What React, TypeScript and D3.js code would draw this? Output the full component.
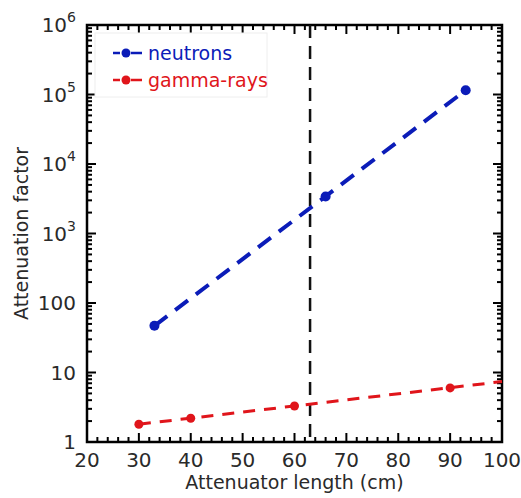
import { useRef, useEffect } from "react";
import * as d3 from "d3";

interface Pt { x: number; y: number; }

// measured points
const neutrons: Pt[] = [
  { x: 33, y: 47 },
  { x: 66, y: 3400 },
  { x: 93, y: 115000 },
];
const gammas: Pt[] = [
  { x: 30, y: 1.8 },
  { x: 40, y: 2.2 },
  { x: 60, y: 3.3 },
  { x: 90, y: 6.0 },
];
// exponential fit lines (end points)
const neutronFit: Pt[] = [{ x: 33, y: 47 }, { x: 93, y: 115000 }];
const gammaFit: Pt[] = [{ x: 30, y: 1.8 }, { x: 100, y: 7.4 }];
const cutLength = 63;

const xTicks = [20, 30, 40, 50, 60, 70, 80, 90, 100];
const yDecades = [1, 10, 100, 1e3, 1e4, 1e5, 1e6];
const yLabels = ["1", "10", "100", "10|3", "10|4", "10|5", "10|6"];

const BLUE = "#0b1cb8";
const RED = "#e0151b";
const INK = "#2a2a2a";
const FONT = "DejaVu Sans, sans-serif";

export default function App() {
  const svgRef = useRef<SVGSVGElement>(null);

  useEffect(() => {
    const svg = d3.select(svgRef.current);
    svg.selectAll("*").remove();
    const m = { left: 87, right: 502, top: 25, bottom: 442 };
    const x = d3.scaleLinear().domain([20, 100]).range([m.left, m.right]);
    const y = d3.scaleLog().domain([1, 1e6]).range([m.bottom, m.top]);

    const g = svg.append("g");

    // minor / major ticks, inward on all sides
    const ticks = g.append("g").attr("stroke", "#000").attr("stroke-width", 2);
    d3.range(20, 100.1, 2).forEach(v => {
      const len = v % 10 === 0 ? 9 : 5;
      ticks.append("line").attr("x1", x(v)).attr("x2", x(v)).attr("y1", m.bottom).attr("y2", m.bottom - len);
      ticks.append("line").attr("x1", x(v)).attr("x2", x(v)).attr("y1", m.top).attr("y2", m.top + len);
    });
    yDecades.forEach((d, i) => {
      [m.left, m.right].forEach((ax, side) => {
        const dir = side === 0 ? 1 : -1;
        ticks.append("line").attr("x1", ax).attr("x2", ax + dir * 9).attr("y1", y(d)).attr("y2", y(d));
        if (i < yDecades.length - 1) {
          d3.range(2, 10).forEach(k => {
            ticks.append("line").attr("x1", ax).attr("x2", ax + dir * 5)
              .attr("y1", y(d * k)).attr("y2", y(d * k));
          });
        }
      });
    });

    // frame
    g.append("rect").attr("x", m.left).attr("y", m.top)
      .attr("width", m.right - m.left).attr("height", m.bottom - m.top)
      .attr("fill", "none").attr("stroke", "#000").attr("stroke-width", 2.5);

    // tick labels
    xTicks.forEach(v => {
      g.append("text").attr("x", x(v)).attr("y", 467).attr("text-anchor", "middle")
        .attr("font-family", FONT).attr("font-size", 20).attr("fill", INK).text(v);
    });
    yDecades.forEach((d, i) => {
      const [base, exp] = yLabels[i].split("|");
      const t = g.append("text").attr("x", 76).attr("y", y(d) + 7).attr("text-anchor", "end")
        .attr("font-family", FONT).attr("font-size", 20).attr("fill", INK);
      t.append("tspan").text(base);
      if (exp) t.append("tspan").attr("dy", -10).attr("font-size", 14).text(exp);
    });

    // axis titles
    g.append("text").attr("x", (m.left + m.right) / 2).attr("y", 489).attr("text-anchor", "middle")
      .attr("font-family", FONT).attr("font-size", 19).attr("fill", INK).text("Attenuator length (cm)");
    g.append("text").attr("transform", `translate(28,${(m.top + m.bottom) / 2}) rotate(-90)`)
      .attr("text-anchor", "middle").attr("font-family", FONT).attr("font-size", 19).attr("fill", INK)
      .text("Attenuation factor");

    // vertical cut line
    g.append("line").attr("x1", x(cutLength)).attr("x2", x(cutLength)).attr("y1", m.top).attr("y2", m.bottom)
      .attr("stroke", "#111").attr("stroke-width", 2.5).attr("stroke-dasharray", "13,8");

    const line = d3.line<Pt>().x(d => x(d.x)).y(d => y(d.y));
    g.append("path").datum(neutronFit).attr("d", line).attr("fill", "none")
      .attr("stroke", BLUE).attr("stroke-width", 4).attr("stroke-dasharray", "16,10");
    g.append("path").datum(gammaFit).attr("d", line).attr("fill", "none")
      .attr("stroke", RED).attr("stroke-width", 3).attr("stroke-dasharray", "12,9");

    g.selectAll(".n").data(neutrons).enter().append("circle")
      .attr("cx", d => x(d.x)).attr("cy", d => y(d.y)).attr("r", 5).attr("fill", BLUE);
    g.selectAll(".gm").data(gammas).enter().append("circle")
      .attr("cx", d => x(d.x)).attr("cy", d => y(d.y)).attr("r", 4.5).attr("fill", RED);

    // legend
    const lg = g.append("g");
    lg.append("rect").attr("x", 95).attr("y", 33).attr("width", 172).attr("height", 64)
      .attr("fill", "#fff").attr("stroke", "#eee").attr("stroke-width", 1);
    [{ label: "neutrons", c: BLUE, yy: 53 }, { label: "gamma-rays", c: RED, yy: 80 }].forEach(e => {
      lg.append("line").attr("x1", 113).attr("x2", 120).attr("y1", e.yy).attr("y2", e.yy)
        .attr("stroke", e.c).attr("stroke-width", 2.5);
      lg.append("line").attr("x1", 131).attr("x2", 142).attr("y1", e.yy).attr("y2", e.yy)
        .attr("stroke", e.c).attr("stroke-width", 2.5);
      lg.append("circle").attr("cx", 126).attr("cy", e.yy).attr("r", 4.5).attr("fill", e.c);
      lg.append("text").attr("x", 148).attr("y", e.yy + 7).attr("font-family", FONT)
        .attr("font-size", 19).attr("fill", e.c).text(e.label);
    });
  }, []);

  return (
    <svg ref={svgRef} width={521} height={498}
      style={{ position: "absolute", left: 0, top: 0, background: "#fff" }} />
  );
}
